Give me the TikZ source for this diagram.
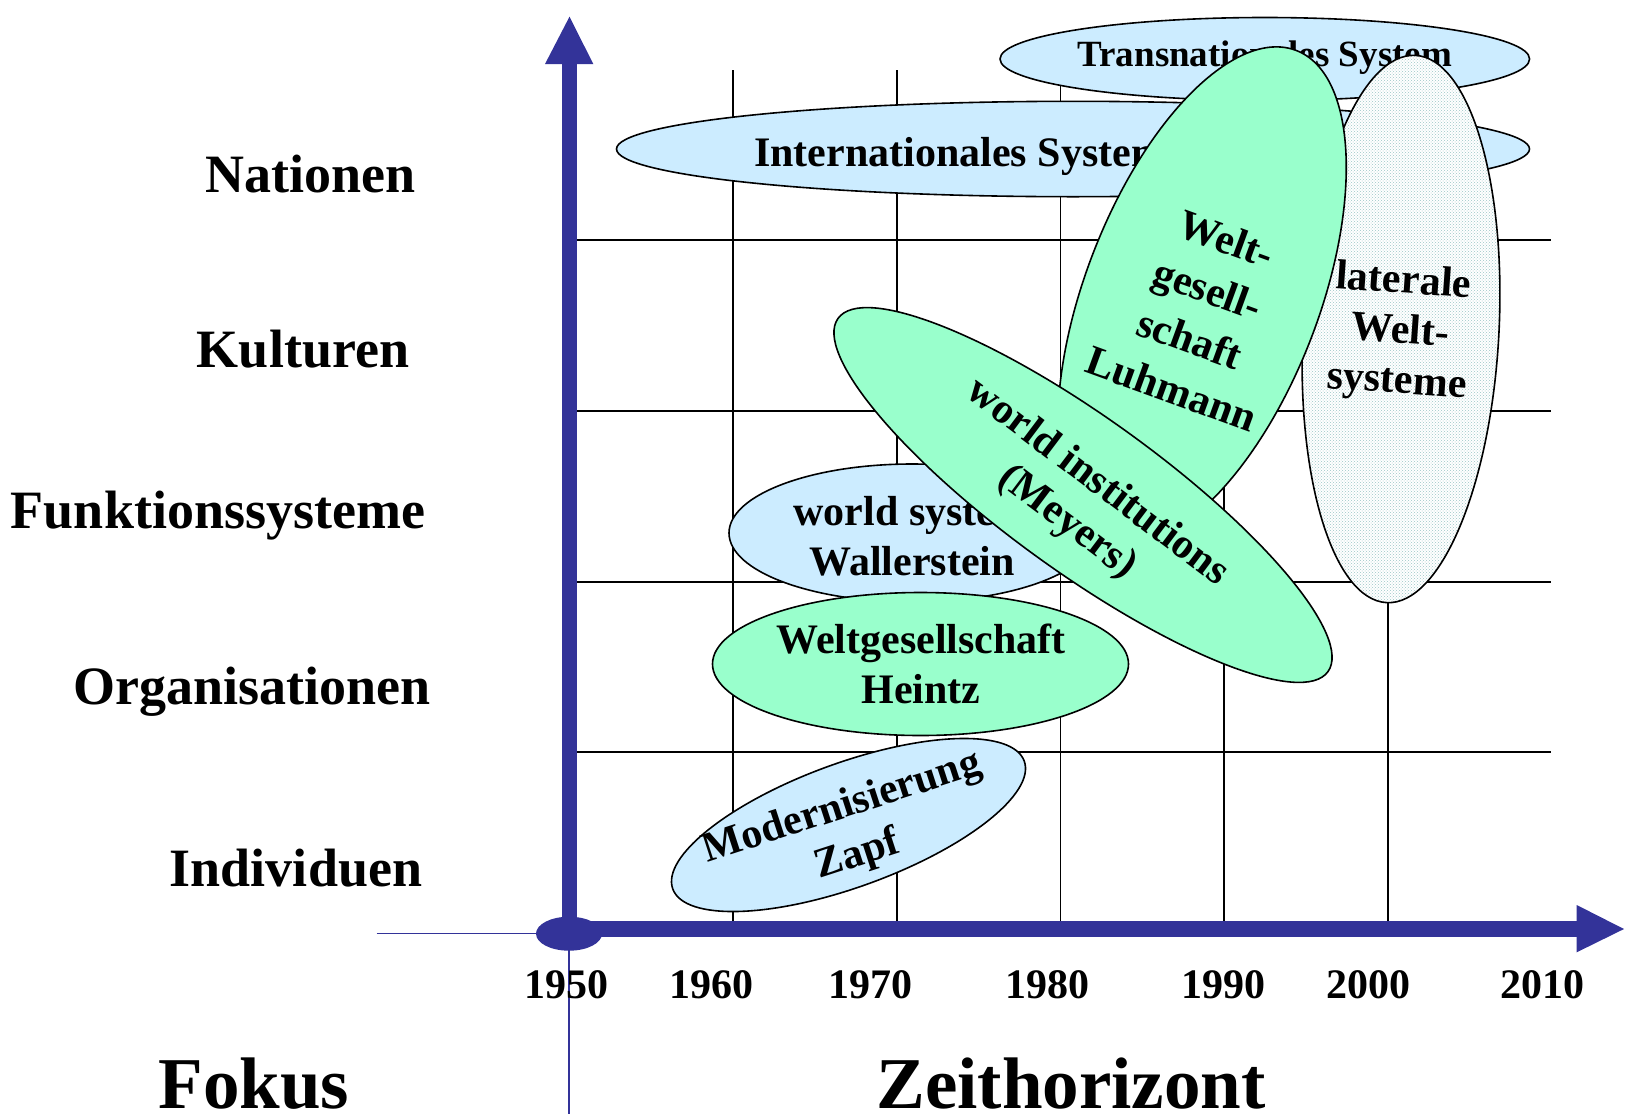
\documentclass[tikz,border=0pt]{standalone}
\usepackage{fontspec}
\setmainfont{Liberation Serif}
\usetikzlibrary{shapes.geometric,patterns}
\definecolor{axisblue}{HTML}{333399}
\definecolor{lblue}{HTML}{CCECFF}
\definecolor{lgreen}{HTML}{99FFCC}
\definecolor{dotcol}{HTML}{9CC6C6}
\begin{document}
\begin{tikzpicture}[x=1pt,y=-1pt,
  gridline/.style={line width=1.8pt, black},
  ell/.style={ellipse, draw=black, line width=1.6pt, inner sep=0pt, outer sep=0pt},
  blueell/.style={ell, fill=lblue},
  greenell/.style={ell, fill=lgreen},
  dotell/.style={ell, preaction={fill=white}, pattern=crosshatch dots, pattern color=dotcol},
  etext/.style={font=\fontsize{42}{50}\selectfont\bfseries, align=center, inner sep=0pt},
  ylab/.style={font=\fontsize{54}{60}\selectfont\bfseries, anchor=base, inner sep=0pt},
  yearlab/.style={font=\fontsize{42}{50}\selectfont\bfseries, anchor=base, inner sep=0pt},
  biglab/.style={font=\fontsize{73}{80}\selectfont\bfseries, anchor=base, inner sep=0pt},
  thinaxis/.style={axisblue, line width=1.5pt},
]
\useasboundingbox (0,0) rectangle (1625,1114);

% grid
\foreach \x in {733,896.7,1060.4,1224.1,1387.8} \draw[gridline] (\x,70) -- (\x,921);
\foreach \y in {240,411,581.7,752} \draw[gridline] (577,\y) -- (1551,\y);

% axes
\coordinate (orig) at (569,933.7);
\coordinate (xend) at (376.7,933.7);
\coordinate (ybot) at (569,1114);
\draw[thinaxis] (xend) -- (orig);
\draw[thinaxis] (orig) -- (ybot);
\fill[axisblue] (561.7,929) rectangle (577.3,63);
\fill[axisblue] (545,64) -- (569.5,16.7) -- (593.3,64) -- cycle;
\fill[axisblue] (569,921) rectangle (1578,937);
\fill[axisblue] (1576.7,905) -- (1624,929) -- (1576.7,952.3) -- cycle;
\node[ellipse, fill=axisblue, minimum width=66, minimum height=34, inner sep=0pt] (origdot) at (orig) {};

% y labels
\node[ylab] (nat) at (310.5,192.7) {Nationen};
\node[ylab] (kul) at (303,367.3) {Kulturen};
\node[ylab] (fun) at (218,528) {Funktionssysteme};
\node[ylab] (org) at (252,704.7) {Organisationen};
\node[ylab] (ind) at (296,886) {Individuen};

% years
\node[yearlab] (y1950) at (566.5,998) {1950};
\node[yearlab] (y1960) at (711,998) {1960};
\node[yearlab] (y1970) at (870.5,998) {1970};
\node[yearlab] (y1980) at (1047,998) {1980};
\node[yearlab] (y1990) at (1223,998) {1990};
\node[yearlab] (y2000) at (1368,998) {2000};
\node[yearlab] (y2010) at (1542,998) {2010};

\node[biglab] (fokus) at (254,1108) {Fokus};
\node[biglab] (zeit) at (1071,1108) {Zeithorizont};

% ellipses
\node[blueell, minimum width=529.6, minimum height=83] (trans) at (1264.8,59) {};
\node[etext, font=\fontsize{37}{44}\selectfont\bfseries, anchor=base] (transT) at (1264.8,66.3) {Transnationales System};

\node[blueell, minimum width=913, minimum height=95.4] (inter) at (1073,149) {};
\node[etext, anchor=base west] (interT) at (754,166) {Internationales System};

\node[dotell, minimum width=196, minimum height=548, rotate=-3] (multi) at (1401,329) {};
\node[etext, rotate=-4] (multiT) at (1400,333) {laterale\\Welt-\\systeme};

\node[greenell, minimum width=234, minimum height=526, rotate=-21] (luh) at (1202,296) {};
\node[etext, font=\fontsize{42}{53}\selectfont\bfseries, rotate=-20] (luhT) at (1199,314) {Welt-\\gesell-\\schaft\\Luhmann};

\node[blueell, minimum width=366, minimum height=138] (ws) at (912,533) {};
\node[etext] (wsT) at (912,536) {world system\\Wallerstein};

\node[greenell, minimum width=416, minimum height=143] (hei) at (920.5,664) {};
\node[etext] (heiT) at (921,664) {Weltgesellschaft\\Heintz};

\node[greenell, minimum width=604, minimum height=154, rotate=-35.8] (mey) at (1083,495) {};
\node[etext, rotate=-37] (meyT) at (1082,503) {world institutions\\(Meyers)};

\node[blueell, minimum width=374, minimum height=124, rotate=20] (zapf) at (848.5,825) {};
\node[etext, rotate=18] (zapfT) at (850,832) {Modernisierung\\Zapf};
\end{tikzpicture}
\end{document}
